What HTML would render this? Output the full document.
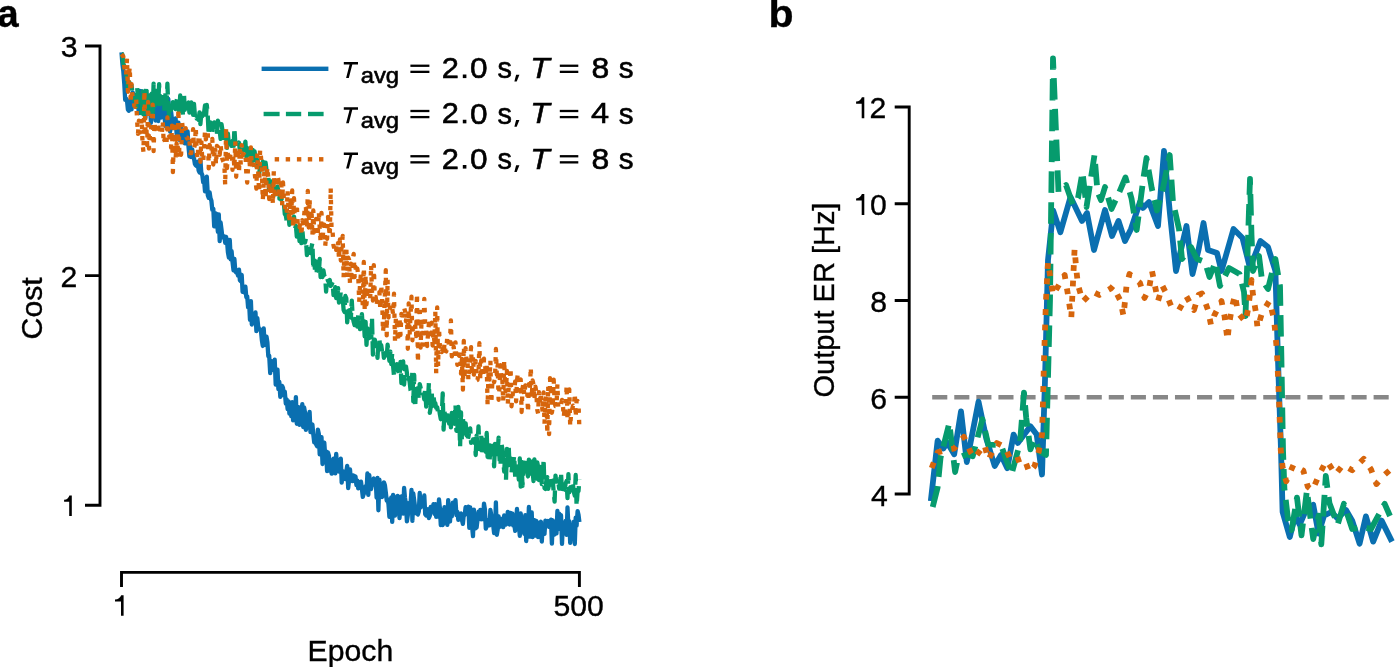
<!DOCTYPE html>
<html><head><meta charset="utf-8"><title>Figure</title>
<style>html,body{margin:0;padding:0;background:#fff;}body{width:1395px;height:667px;overflow:hidden;}svg{display:block;will-change:transform;}</style>
</head><body>
<svg width="1395" height="667" viewBox="0 0 1395 667" font-family="&quot;Liberation Sans&quot;, sans-serif">
<rect width="1395" height="667" fill="#fff"/>
<style>text{stroke:#000;stroke-width:0.35px;} .lg text{stroke-width:0.6px;}</style>
<text x="-2.51" y="26.50" font-size="38" font-weight="bold" fill="#000">a</text>
<text transform="translate(768.39,27.00) scale(1.0533,1)" font-size="39" font-weight="bold" fill="#000">b</text>
<g stroke="#000" stroke-width="2.9" fill="none">
<path d="M85,46 H100 V505.3 H85 M100,275.6 H85"/>
<path d="M121.5,587 V572.4 H579.4 V587"/>
</g>
<text x="60.85" y="56.90" font-size="30.2" fill="#000">3</text>
<text x="60.48" y="286.90" font-size="30.2" fill="#000">2</text>
<path d="M71.8,495.4 V516.1 H69.2 V501.8 H64.1 V499.7 C67.1,499.7 68.7,497.6 69.4,495.4 Z" fill="#000"/>
<path d="M123.6,595.2 V615.7 H121.0 V601.6 H115.0 V599.5 C118.0,599.5 120.5,597.4 121.2,595.2 Z" fill="#000"/>
<text x="553.39" y="615.80" font-size="30.2" fill="#000">500</text>
<text x="307.62" y="661.30" font-size="30.2" fill="#000">Epoch</text>
<g transform="translate(42.1,337.9) rotate(-90)"><text x="-1.53" y="0.00" font-size="30.2" fill="#000">Cost</text></g>
<g stroke="#000" stroke-width="2.9" fill="none">
<path d="M894.7,107 H909.2 V494 H894.7 M894.7,203.75 H909.2 M894.7,300.5 H909.2 M894.7,397.3 H909.2"/>
</g>
<path d="M864.3,97.3 V118.2 H861.7 V103.7 H856.1 V101.6 C859.1,101.6 861.2,99.5 861.9,97.3 Z" fill="#000"/>
<text x="869.38" y="118.00" font-size="30.2" fill="#000">2</text>
<path d="M864.3,194.1 V215.0 H861.7 V200.5 H856.1 V198.4 C859.1,198.4 861.2,196.3 861.9,194.1 Z" fill="#000"/>
<text x="870.02" y="214.90" font-size="30.2" fill="#000">0</text>
<text x="870.29" y="312.00" font-size="30.2" fill="#000">8</text>
<text x="870.17" y="408.70" font-size="30.2" fill="#000">6</text>
<text x="871.11" y="505.50" font-size="30.2" fill="#000">4</text>
<g transform="translate(833.8,396.1) rotate(-90)"><text transform="translate(-1.37,0.00) scale(0.9599,1)" font-size="30.2" fill="#000">Output ER [Hz]</text></g>
<line x1="932.2" y1="397.2" x2="1395" y2="397.2" stroke="#878787" stroke-width="4.5" stroke-dasharray="15.1 6.97"/>
<polyline points="121.5,52.3 122.4,63.9 123.3,71.0 124.3,84.2 125.2,99.9 126.1,98.6 127.0,100.6 127.9,109.5 128.8,110.8 129.8,100.5 130.7,99.7 131.6,109.3 132.5,92.3 133.4,93.6 134.3,101.9 135.3,103.7 136.2,99.0 137.1,99.8 138.0,104.5 138.9,113.2 139.9,91.0 140.8,106.0 141.7,91.3 142.6,98.2 143.5,108.5 144.4,95.0 145.4,117.9 146.3,103.7 147.2,109.6 148.1,99.8 149.0,103.2 149.9,95.3 150.9,122.9 151.8,109.2 152.7,106.8 153.6,115.9 154.5,90.7 155.5,120.5 156.4,103.5 157.3,103.1 158.2,121.0 159.1,107.9 160.0,108.2 161.0,117.7 161.9,102.9 162.8,103.4 163.7,103.6 164.6,117.6 165.5,125.9 166.5,111.7 167.4,124.7 168.3,98.9 169.2,115.7 170.1,131.6 171.1,111.7 172.0,119.6 172.9,128.0 173.8,119.8 174.7,124.0 175.6,118.3 176.6,133.7 177.5,130.7 178.4,122.7 179.3,139.9 180.2,133.1 181.1,125.7 182.1,135.1 183.0,141.2 183.9,129.8 184.8,143.4 185.7,132.5 186.7,140.4 187.6,131.3 188.5,146.5 189.4,156.3 190.3,146.3 191.2,157.0 192.2,149.3 193.1,156.8 194.0,158.4 194.9,163.8 195.8,165.3 196.7,166.0 197.7,161.6 198.6,170.4 199.5,172.4 200.4,159.6 201.3,172.6 202.3,175.1 203.2,182.2 204.1,180.0 205.0,191.4 205.9,182.4 206.8,176.6 207.8,195.3 208.7,197.9 209.6,192.3 210.5,198.2 211.4,200.7 212.3,209.7 213.3,208.7 214.2,226.4 215.1,214.6 216.0,213.6 216.9,221.2 217.9,231.9 218.8,214.4 219.7,241.2 220.6,222.4 221.5,229.6 222.4,237.3 223.4,237.1 224.3,236.5 225.2,242.8 226.1,236.9 227.0,240.5 227.9,252.2 228.9,257.7 229.8,240.0 230.7,259.4 231.6,251.2 232.5,261.7 233.5,270.3 234.4,258.8 235.3,271.2 236.2,272.5 237.1,270.2 238.0,275.6 239.0,269.6 239.9,280.3 240.8,281.2 241.7,274.8 242.6,291.8 243.5,287.1 244.5,292.7 245.4,286.7 246.3,297.1 247.2,296.4 248.1,307.4 249.1,303.4 250.0,319.8 250.9,301.1 251.8,324.5 252.7,316.0 253.6,322.6 254.6,320.2 255.5,312.5 256.4,331.1 257.3,318.1 258.2,326.5 259.1,328.8 260.1,329.4 261.0,331.4 261.9,340.4 262.8,346.0 263.7,328.3 264.7,344.9 265.6,344.9 266.5,336.7 267.4,342.3 268.3,356.0 269.2,355.8 270.2,373.2 271.1,361.0 272.0,369.8 272.9,361.3 273.8,368.0 274.7,359.7 275.7,384.6 276.6,377.6 277.5,369.6 278.4,389.1 279.3,381.8 280.3,396.9 281.2,390.6 282.1,385.9 283.0,387.9 283.9,395.3 284.8,391.7 285.8,403.6 286.7,399.4 287.6,409.1 288.5,401.4 289.4,413.7 290.3,406.0 291.3,416.2 292.2,402.2 293.1,420.3 294.0,410.6 294.9,418.3 295.9,397.1 296.8,423.8 297.7,408.2 298.6,407.2 299.5,424.9 300.4,418.6 301.4,417.2 302.3,404.2 303.2,427.0 304.1,407.5 305.0,412.4 305.9,429.8 306.9,414.3 307.8,416.2 308.7,427.6 309.6,411.8 310.5,432.2 311.5,425.8 312.4,424.5 313.3,434.2 314.2,442.3 315.1,437.9 316.0,444.1 317.0,446.2 317.9,429.7 318.8,433.8 319.7,454.3 320.6,447.0 321.5,437.1 322.5,464.0 323.4,446.6 324.3,442.6 325.2,456.2 326.1,451.3 327.1,471.2 328.0,452.5 328.9,455.5 329.8,470.6 330.7,461.5 331.6,473.7 332.6,461.5 333.5,458.6 334.4,460.4 335.3,473.3 336.2,453.8 337.1,466.4 338.1,463.4 339.0,471.6 339.9,464.3 340.8,458.7 341.7,482.6 342.7,471.1 343.6,478.2 344.5,477.0 345.4,479.0 346.3,471.9 347.2,465.9 348.2,488.1 349.1,480.1 350.0,469.3 350.9,480.5 351.8,475.2 352.7,481.1 353.7,475.5 354.6,477.8 355.5,476.5 356.4,485.0 357.3,480.5 358.2,488.3 359.2,482.4 360.1,486.4 361.0,481.7 361.9,488.6 362.8,496.9 363.8,493.3 364.7,490.0 365.6,486.3 366.5,492.4 367.4,473.5 368.3,494.8 369.3,475.2 370.2,488.4 371.1,488.9 372.0,483.7 372.9,479.9 373.8,478.5 374.8,484.8 375.7,480.6 376.6,497.7 377.5,478.0 378.4,510.3 379.4,479.6 380.3,491.4 381.2,495.8 382.1,496.9 383.0,493.3 383.9,482.3 384.9,485.2 385.8,492.3 386.7,500.6 387.6,499.3 388.5,504.5 389.4,516.8 390.4,503.7 391.3,497.4 392.2,521.9 393.1,494.8 394.0,496.8 395.0,515.7 395.9,500.7 396.8,504.7 397.7,496.0 398.6,500.0 399.5,518.1 400.5,505.4 401.4,496.5 402.3,501.2 403.2,513.7 404.1,488.0 405.0,498.0 406.0,504.4 406.9,521.4 407.8,515.5 408.7,503.1 409.6,511.6 410.6,503.3 411.5,490.0 412.4,520.9 413.3,493.5 414.2,500.5 415.1,507.3 416.1,513.4 417.0,513.4 417.9,514.5 418.8,511.3 419.7,493.0 420.6,507.5 421.6,505.6 422.5,504.5 423.4,503.4 424.3,495.5 425.2,514.2 426.2,515.6 427.1,510.4 428.0,509.2 428.9,518.0 429.8,515.9 430.7,507.0 431.7,510.7 432.6,509.3 433.5,504.1 434.4,513.9 435.3,504.1 436.2,516.9 437.2,514.8 438.1,516.4 439.0,499.4 439.9,508.3 440.8,525.2 441.8,509.9 442.7,525.0 443.6,522.5 444.5,507.1 445.4,516.7 446.3,507.6 447.3,524.9 448.2,500.2 449.1,516.9 450.0,521.5 450.9,506.4 451.8,516.4 452.8,502.6 453.7,510.3 454.6,508.3 455.5,500.1 456.4,515.1 457.4,511.9 458.3,519.8 459.2,515.1 460.1,514.2 461.0,513.5 461.9,520.0 462.9,523.9 463.8,514.2 464.7,514.9 465.6,507.2 466.5,513.5 467.4,513.4 468.4,506.6 469.3,527.8 470.2,507.5 471.1,520.0 472.0,525.6 473.0,536.2 473.9,509.6 474.8,526.0 475.7,528.2 476.6,527.4 477.5,520.1 478.5,511.7 479.4,518.7 480.3,510.0 481.2,519.4 482.1,510.6 483.0,519.2 484.0,503.6 484.9,509.4 485.8,528.7 486.7,526.2 487.6,520.1 488.6,524.1 489.5,525.3 490.4,510.0 491.3,515.1 492.2,522.7 493.1,524.3 494.1,533.0 495.0,530.6 495.9,502.3 496.8,534.8 497.7,529.6 498.6,516.4 499.6,526.9 500.5,525.7 501.4,518.8 502.3,519.6 503.2,527.2 504.2,515.5 505.1,517.8 506.0,524.5 506.9,522.8 507.8,511.8 508.7,520.5 509.7,524.5 510.6,513.0 511.5,516.2 512.4,513.6 513.3,525.6 514.2,523.9 515.2,530.9 516.1,522.0 517.0,509.0 517.9,525.5 518.8,524.5 519.8,535.8 520.7,513.5 521.6,522.8 522.5,529.0 523.4,528.9 524.3,533.8 525.3,515.2 526.2,541.0 527.1,526.4 528.0,531.1 528.9,507.0 529.8,536.6 530.8,521.7 531.7,512.3 532.6,537.1 533.5,524.4 534.4,520.2 535.4,535.7 536.3,520.8 537.2,523.4 538.1,537.0 539.0,525.1 539.9,524.9 540.9,521.7 541.8,541.5 542.7,526.4 543.6,532.6 544.5,533.8 545.4,520.6 546.4,523.8 547.3,523.0 548.2,521.1 549.1,526.9 550.0,524.4 551.0,519.6 551.9,543.6 552.8,520.4 553.7,525.0 554.6,534.6 555.5,527.6 556.5,533.3 557.4,510.9 558.3,529.0 559.2,513.6 560.1,520.4 561.0,515.0 562.0,543.9 562.9,522.9 563.8,533.1 564.7,530.6 565.6,520.8 566.6,534.9 567.5,507.4 568.4,526.2 569.3,521.0 570.2,542.9 571.1,528.0 572.1,525.4 573.0,530.1 573.9,521.6 574.8,544.0 575.7,517.6 576.6,525.6 577.6,511.1 578.5,514.8 579.4,521.9" fill="none" stroke="#0a6fb0" stroke-width="4.3" stroke-linejoin="round" stroke-linecap="butt"/>
<polyline points="121.5,54.1 122.4,54.4 123.3,63.5 124.3,66.5 125.2,73.6 126.1,75.7 127.0,74.0 127.9,87.5 128.8,81.0 129.8,83.4 130.7,88.6 131.6,85.4 132.5,93.7 133.4,95.5 134.3,100.0 135.3,97.8 136.2,111.7 137.1,87.3 138.0,97.0 138.9,99.9 139.9,105.4 140.8,106.5 141.7,113.1 142.6,91.4 143.5,114.3 144.4,96.5 145.4,101.5 146.3,86.2 147.2,102.2 148.1,112.6 149.0,93.8 149.9,111.4 150.9,96.0 151.8,93.6 152.7,113.8 153.6,83.6 154.5,105.8 155.5,91.6 156.4,96.8 157.3,87.2 158.2,103.9 159.1,84.2 160.0,104.2 161.0,99.3 161.9,96.5 162.8,93.7 163.7,94.8 164.6,113.3 165.5,92.3 166.5,104.5 167.4,83.7 168.3,106.7 169.2,116.5 170.1,109.6 171.1,110.0 172.0,107.6 172.9,102.2 173.8,107.1 174.7,100.8 175.6,109.0 176.6,100.8 177.5,96.1 178.4,106.9 179.3,111.5 180.2,95.5 181.1,105.6 182.1,98.9 183.0,116.6 183.9,92.7 184.8,109.8 185.7,104.4 186.7,101.4 187.6,103.8 188.5,102.6 189.4,112.5 190.3,102.8 191.2,102.4 192.2,104.7 193.1,114.9 194.0,103.8 194.9,115.2 195.8,113.1 196.7,118.7 197.7,117.4 198.6,119.9 199.5,112.4 200.4,124.0 201.3,113.9 202.3,116.2 203.2,109.5 204.1,112.6 205.0,105.5 205.9,117.9 206.8,104.9 207.8,116.7 208.7,135.0 209.6,124.1 210.5,122.4 211.4,133.2 212.3,132.8 213.3,125.8 214.2,122.4 215.1,127.5 216.0,128.6 216.9,134.3 217.9,120.7 218.8,124.1 219.7,130.7 220.6,138.9 221.5,124.2 222.4,129.8 223.4,137.9 224.3,137.3 225.2,138.6 226.1,134.6 227.0,147.9 227.9,133.7 228.9,144.1 229.8,139.8 230.7,140.1 231.6,145.9 232.5,140.8 233.5,150.8 234.4,128.0 235.3,143.3 236.2,143.0 237.1,147.4 238.0,144.8 239.0,142.6 239.9,151.1 240.8,151.9 241.7,151.9 242.6,149.7 243.5,155.0 244.5,146.9 245.4,141.6 246.3,156.7 247.2,150.4 248.1,148.4 249.1,152.9 250.0,146.7 250.9,158.7 251.8,164.9 252.7,149.8 253.6,162.2 254.6,151.5 255.5,159.7 256.4,166.5 257.3,159.8 258.2,164.3 259.1,173.3 260.1,168.0 261.0,167.3 261.9,167.6 262.8,161.6 263.7,167.9 264.7,167.9 265.6,162.7 266.5,169.9 267.4,176.5 268.3,175.6 269.2,190.1 270.2,180.3 271.1,183.8 272.0,181.5 272.9,183.3 273.8,188.4 274.7,185.1 275.7,194.3 276.6,189.3 277.5,186.6 278.4,191.5 279.3,198.5 280.3,193.0 281.2,199.7 282.1,198.2 283.0,197.9 283.9,202.7 284.8,214.0 285.8,215.4 286.7,220.8 287.6,217.7 288.5,214.5 289.4,224.8 290.3,218.6 291.3,215.7 292.2,219.6 293.1,221.8 294.0,216.5 294.9,229.0 295.9,225.8 296.8,236.6 297.7,234.8 298.6,227.9 299.5,241.0 300.4,234.2 301.4,243.2 302.3,229.4 303.2,240.1 304.1,242.4 305.0,242.5 305.9,238.7 306.9,255.2 307.8,247.3 308.7,244.9 309.6,251.3 310.5,252.9 311.5,247.0 312.4,242.9 313.3,269.1 314.2,260.3 315.1,271.5 316.0,261.5 317.0,274.7 317.9,273.1 318.8,273.9 319.7,258.8 320.6,277.1 321.5,269.6 322.5,277.0 323.4,270.4 324.3,275.7 325.2,276.9 326.1,291.6 327.1,278.2 328.0,280.9 328.9,282.2 329.8,280.1 330.7,285.8 331.6,284.7 332.6,282.1 333.5,295.0 334.4,291.2 335.3,287.1 336.2,298.1 337.1,298.0 338.1,288.2 339.0,302.5 339.9,299.6 340.8,291.5 341.7,295.9 342.7,297.6 343.6,309.9 344.5,312.0 345.4,296.0 346.3,298.2 347.2,322.4 348.2,311.2 349.1,310.3 350.0,310.1 350.9,317.5 351.8,300.7 352.7,317.1 353.7,322.0 354.6,325.1 355.5,316.3 356.4,321.3 357.3,326.6 358.2,314.8 359.2,318.7 360.1,329.2 361.0,327.0 361.9,314.1 362.8,328.4 363.8,321.2 364.7,336.4 365.6,321.8 366.5,344.9 367.4,328.3 368.3,329.9 369.3,338.0 370.2,336.2 371.1,341.6 372.0,317.7 372.9,354.7 373.8,339.7 374.8,339.6 375.7,344.3 376.6,345.9 377.5,357.9 378.4,341.8 379.4,339.7 380.3,347.6 381.2,345.1 382.1,351.5 383.0,348.3 383.9,357.9 384.9,353.1 385.8,360.6 386.7,357.2 387.6,344.7 388.5,352.4 389.4,360.8 390.4,351.6 391.3,364.1 392.2,353.1 393.1,365.9 394.0,375.8 395.0,370.3 395.9,369.7 396.8,364.1 397.7,366.7 398.6,372.8 399.5,376.1 400.5,361.8 401.4,383.1 402.3,376.9 403.2,361.5 404.1,384.5 405.0,371.6 406.0,366.6 406.9,372.9 407.8,382.3 408.7,377.8 409.6,381.6 410.6,390.5 411.5,392.9 412.4,369.9 413.3,401.4 414.2,375.0 415.1,407.3 416.1,388.9 417.0,395.3 417.9,388.2 418.8,399.8 419.7,384.1 420.6,387.6 421.6,389.9 422.5,388.6 423.4,394.3 424.3,399.5 425.2,388.2 426.2,406.7 427.1,401.4 428.0,399.6 428.9,383.0 429.8,412.9 430.7,407.2 431.7,392.6 432.6,405.8 433.5,396.5 434.4,402.7 435.3,403.1 436.2,407.8 437.2,407.4 438.1,412.2 439.0,408.5 439.9,414.4 440.8,419.2 441.8,414.9 442.7,393.3 443.6,429.7 444.5,411.6 445.4,418.4 446.3,420.3 447.3,413.0 448.2,411.8 449.1,423.7 450.0,411.2 450.9,427.3 451.8,412.8 452.8,424.7 453.7,420.5 454.6,423.7 455.5,404.4 456.4,430.8 457.4,428.7 458.3,406.8 459.2,416.6 460.1,446.6 461.0,412.3 461.9,441.0 462.9,416.4 463.8,433.4 464.7,431.4 465.6,423.3 466.5,430.9 467.4,441.2 468.4,436.9 469.3,431.7 470.2,428.4 471.1,442.9 472.0,441.8 473.0,439.5 473.9,440.7 474.8,438.9 475.7,455.0 476.6,435.6 477.5,445.6 478.5,426.3 479.4,449.2 480.3,448.1 481.2,435.4 482.1,455.3 483.0,439.5 484.0,448.9 484.9,447.2 485.8,451.9 486.7,433.0 487.6,456.9 488.6,441.1 489.5,462.6 490.4,445.6 491.3,440.3 492.2,450.3 493.1,448.9 494.1,466.4 495.0,443.8 495.9,457.1 496.8,457.3 497.7,451.3 498.6,437.6 499.6,459.5 500.5,465.6 501.4,443.1 502.3,448.5 503.2,460.3 504.2,471.5 505.1,455.3 506.0,479.8 506.9,448.9 507.8,465.6 508.7,446.8 509.7,468.0 510.6,458.3 511.5,472.9 512.4,463.4 513.3,462.7 514.2,455.6 515.2,477.1 516.1,469.5 517.0,473.9 517.9,466.5 518.8,479.6 519.8,458.5 520.7,486.6 521.6,461.8 522.5,485.9 523.4,465.6 524.3,465.5 525.3,457.9 526.2,469.0 527.1,471.4 528.0,476.5 528.9,459.6 529.8,473.9 530.8,469.0 531.7,459.1 532.6,471.1 533.5,481.0 534.4,459.5 535.4,473.5 536.3,478.6 537.2,462.3 538.1,466.7 539.0,480.0 539.9,468.8 540.9,463.3 541.8,484.1 542.7,483.2 543.6,459.4 544.5,488.1 545.4,488.9 546.4,480.2 547.3,477.1 548.2,488.8 549.1,484.6 550.0,481.1 551.0,486.5 551.9,488.9 552.8,480.7 553.7,492.1 554.6,501.6 555.5,475.6 556.5,484.6 557.4,482.9 558.3,482.2 559.2,488.6 560.1,481.5 561.0,472.6 562.0,492.0 562.9,494.1 563.8,488.2 564.7,489.7 565.6,483.5 566.6,481.1 567.5,498.1 568.4,474.1 569.3,492.3 570.2,487.4 571.1,488.9 572.1,481.5 573.0,484.9 573.9,492.2 574.8,495.6 575.7,475.0 576.6,505.9 577.6,491.6 578.5,491.2 579.4,479.3" fill="none" stroke="#069b6d" stroke-width="4.3" stroke-linejoin="round" stroke-linecap="butt" stroke-dasharray="15.9 6.6"/>
<polyline points="121.5,54.2 122.4,55.3 123.3,56.4 124.3,66.9 125.2,72.4 126.1,75.3 127.0,58.4 127.9,91.8 128.8,75.7 129.8,67.1 130.7,102.9 131.6,84.2 132.5,96.2 133.4,97.7 134.3,106.1 135.3,106.8 136.2,99.6 137.1,120.9 138.0,133.8 138.9,120.7 139.9,132.4 140.8,128.7 141.7,118.2 142.6,144.9 143.5,152.0 144.4,90.7 145.4,130.5 146.3,126.1 147.2,145.1 148.1,101.8 149.0,148.7 149.9,135.5 150.9,134.8 151.8,116.5 152.7,104.7 153.6,151.1 154.5,122.3 155.5,133.2 156.4,128.2 157.3,132.8 158.2,127.7 159.1,129.3 160.0,127.6 161.0,128.0 161.9,132.9 162.8,121.4 163.7,143.3 164.6,139.5 165.5,145.0 166.5,144.6 167.4,117.4 168.3,138.0 169.2,136.4 170.1,138.8 171.1,147.5 172.0,125.7 172.9,172.1 173.8,138.0 174.7,126.7 175.6,158.6 176.6,143.5 177.5,157.0 178.4,109.1 179.3,152.7 180.2,150.1 181.1,154.8 182.1,122.3 183.0,130.4 183.9,127.1 184.8,128.8 185.7,128.2 186.7,137.8 187.6,137.7 188.5,142.6 189.4,139.6 190.3,153.1 191.2,153.2 192.2,140.9 193.1,129.1 194.0,148.2 194.9,144.9 195.8,127.3 196.7,152.6 197.7,159.1 198.6,135.1 199.5,139.2 200.4,161.9 201.3,140.0 202.3,160.0 203.2,161.4 204.1,147.4 205.0,131.1 205.9,139.4 206.8,133.0 207.8,132.4 208.7,168.4 209.6,144.8 210.5,149.0 211.4,152.5 212.3,138.9 213.3,164.5 214.2,156.1 215.1,146.3 216.0,164.7 216.9,145.8 217.9,147.0 218.8,152.3 219.7,154.7 220.6,144.8 221.5,154.1 222.4,159.1 223.4,161.7 224.3,163.5 225.2,185.2 226.1,127.8 227.0,168.1 227.9,151.9 228.9,150.6 229.8,156.9 230.7,153.8 231.6,152.0 232.5,169.9 233.5,155.1 234.4,168.2 235.3,141.4 236.2,176.8 237.1,147.2 238.0,153.7 239.0,171.7 239.9,148.1 240.8,165.1 241.7,145.2 242.6,155.3 243.5,153.9 244.5,151.6 245.4,152.1 246.3,173.2 247.2,182.6 248.1,167.1 249.1,156.2 250.0,167.3 250.9,147.4 251.8,167.0 252.7,159.0 253.6,162.6 254.6,172.0 255.5,180.8 256.4,188.7 257.3,153.3 258.2,171.9 259.1,191.7 260.1,149.7 261.0,157.1 261.9,172.6 262.8,200.2 263.7,183.9 264.7,165.5 265.6,198.2 266.5,179.8 267.4,167.2 268.3,178.1 269.2,199.2 270.2,184.6 271.1,193.1 272.0,186.7 272.9,204.2 273.8,171.2 274.7,194.9 275.7,198.3 276.6,188.0 277.5,175.6 278.4,179.4 279.3,191.7 280.3,198.8 281.2,178.6 282.1,205.6 283.0,182.3 283.9,200.6 284.8,204.3 285.8,214.4 286.7,212.7 287.6,190.7 288.5,210.0 289.4,222.8 290.3,197.9 291.3,213.3 292.2,190.5 293.1,227.0 294.0,198.1 294.9,221.6 295.9,208.7 296.8,204.0 297.7,224.0 298.6,222.3 299.5,227.1 300.4,222.2 301.4,235.7 302.3,220.2 303.2,223.3 304.1,216.1 305.0,205.4 305.9,207.5 306.9,228.0 307.8,190.9 308.7,227.5 309.6,198.7 310.5,230.9 311.5,209.2 312.4,235.6 313.3,210.3 314.2,231.9 315.1,224.8 316.0,219.0 317.0,236.1 317.9,231.9 318.8,211.4 319.7,227.5 320.6,242.2 321.5,212.8 322.5,241.2 323.4,228.2 324.3,224.7 325.2,246.1 326.1,236.2 327.1,238.8 328.0,216.9 328.9,227.0 329.8,236.3 330.7,188.0 331.6,232.3 332.6,231.9 333.5,245.2 334.4,249.1 335.3,246.2 336.2,249.9 337.1,240.2 338.1,242.0 339.0,259.2 339.9,239.5 340.8,260.5 341.7,245.9 342.7,235.9 343.6,277.4 344.5,249.5 345.4,266.5 346.3,246.3 347.2,277.4 348.2,257.7 349.1,259.8 350.0,283.5 350.9,263.7 351.8,281.8 352.7,259.7 353.7,253.9 354.6,277.1 355.5,266.9 356.4,272.8 357.3,268.5 358.2,274.6 359.2,301.8 360.1,282.7 361.0,272.8 361.9,292.5 362.8,305.6 363.8,262.0 364.7,310.0 365.6,275.0 366.5,304.3 367.4,292.4 368.3,289.5 369.3,285.8 370.2,299.1 371.1,265.0 372.0,291.8 372.9,300.5 373.8,265.1 374.8,297.3 375.7,297.0 376.6,305.8 377.5,298.3 378.4,297.7 379.4,292.1 380.3,309.2 381.2,284.7 382.1,297.2 383.0,332.0 383.9,322.7 384.9,294.5 385.8,270.1 386.7,335.4 387.6,279.5 388.5,317.5 389.4,314.6 390.4,304.4 391.3,308.7 392.2,308.4 393.1,314.3 394.0,293.7 395.0,341.1 395.9,317.4 396.8,321.3 397.7,335.9 398.6,341.3 399.5,317.3 400.5,335.0 401.4,313.9 402.3,320.7 403.2,310.1 404.1,307.5 405.0,311.0 406.0,321.3 406.9,312.4 407.8,348.8 408.7,303.3 409.6,335.4 410.6,314.1 411.5,296.7 412.4,340.3 413.3,323.0 414.2,322.2 415.1,324.5 416.1,336.1 417.0,293.6 417.9,362.3 418.8,329.2 419.7,306.2 420.6,347.7 421.6,318.5 422.5,350.3 423.4,335.2 424.3,298.8 425.2,323.6 426.2,330.1 427.1,346.0 428.0,334.3 428.9,323.6 429.8,334.4 430.7,324.2 431.7,322.8 432.6,345.5 433.5,332.1 434.4,341.5 435.3,311.4 436.2,373.6 437.2,307.3 438.1,366.2 439.0,328.5 439.9,346.6 440.8,345.5 441.8,352.1 442.7,349.6 443.6,353.6 444.5,343.3 445.4,351.0 446.3,351.4 447.3,336.0 448.2,339.3 449.1,348.0 450.0,340.4 450.9,320.3 451.8,356.4 452.8,352.2 453.7,346.8 454.6,356.1 455.5,342.3 456.4,358.6 457.4,364.9 458.3,354.5 459.2,355.8 460.1,354.5 461.0,373.6 461.9,359.0 462.9,389.7 463.8,340.9 464.7,378.3 465.6,348.1 466.5,360.2 467.4,358.0 468.4,380.1 469.3,371.5 470.2,355.8 471.1,347.2 472.0,375.1 473.0,356.3 473.9,374.7 474.8,366.0 475.7,360.9 476.6,380.3 477.5,379.8 478.5,373.8 479.4,343.2 480.3,380.0 481.2,360.5 482.1,367.4 483.0,377.1 484.0,358.7 484.9,360.9 485.8,375.5 486.7,363.9 487.6,405.5 488.6,370.9 489.5,379.6 490.4,360.5 491.3,403.1 492.2,384.7 493.1,378.7 494.1,382.2 495.0,378.9 495.9,349.0 496.8,374.8 497.7,365.1 498.6,399.8 499.6,386.1 500.5,365.2 501.4,381.0 502.3,378.7 503.2,401.5 504.2,360.3 505.1,389.1 506.0,391.0 506.9,370.8 507.8,404.2 508.7,386.9 509.7,390.1 510.6,367.9 511.5,406.3 512.4,396.6 513.3,390.3 514.2,390.1 515.2,381.3 516.1,401.4 517.0,380.4 517.9,373.1 518.8,390.7 519.8,381.3 520.7,379.4 521.6,412.0 522.5,388.2 523.4,383.9 524.3,395.2 525.3,385.5 526.2,387.3 527.1,388.3 528.0,412.3 528.9,384.1 529.8,390.4 530.8,367.3 531.7,398.0 532.6,380.5 533.5,384.5 534.4,400.4 535.4,386.6 536.3,392.0 537.2,409.5 538.1,413.5 539.0,392.2 539.9,400.9 540.9,392.8 541.8,404.1 542.7,412.5 543.6,392.5 544.5,423.9 545.4,400.2 546.4,396.0 547.3,433.6 548.2,385.9 549.1,434.1 550.0,378.2 551.0,393.4 551.9,412.8 552.8,405.9 553.7,379.6 554.6,402.6 555.5,406.2 556.5,406.3 557.4,384.1 558.3,407.6 559.2,407.7 560.1,404.3 561.0,404.7 562.0,399.9 562.9,405.4 563.8,417.1 564.7,407.1 565.6,412.2 566.6,385.3 567.5,419.9 568.4,417.1 569.3,389.4 570.2,426.3 571.1,413.9 572.1,409.6 573.0,405.7 573.9,407.1 574.8,393.5 575.7,417.1 576.6,400.7 577.6,401.1 578.5,402.6 579.4,429.4" fill="none" stroke="#d6650c" stroke-width="4.3" stroke-linejoin="round" stroke-linecap="butt" stroke-dasharray="4.4 7.0"/>
<polyline points="930.8,501.0 937.6,440.7 943.4,448.5 947.3,442.6 954.2,454.3 961.0,411.4 966.8,462.0 978.5,401.7 986.3,438.7 994.7,466.0 1001.0,455.0 1007.3,468.2 1013.6,434.6 1017.8,443.0 1030.4,426.2 1036.7,434.6 1042.0,474.5 1045.0,380.0 1048.0,260.0 1053.2,210.7 1060.4,232.3 1070.5,197.0 1082.0,221.0 1087.0,213.0 1094.0,250.0 1105.0,210.0 1112.0,236.0 1118.5,221.0 1125.0,241.0 1131.0,229.0 1140.0,202.0 1143.0,208.0 1149.0,202.0 1158.0,226.0 1164.0,151.0 1170.0,214.0 1176.0,271.0 1186.5,226.0 1192.5,274.0 1198.5,250.0 1203.5,223.0 1208.0,250.0 1217.0,253.0 1221.5,271.0 1233.5,229.0 1242.5,238.0 1250.0,268.0 1260.4,241.0 1268.0,247.0 1275.4,271.0 1278.0,360.0 1281.0,450.0 1282.6,512.0 1289.8,537.0 1295.2,515.6 1299.7,524.6 1306.0,510.0 1313.2,504.8 1318.6,533.6 1324.0,515.6 1331.3,512.0 1337.6,518.5 1346.0,510.0 1352.2,520.6 1359.6,543.7 1365.9,516.4 1373.2,541.6 1381.6,520.6 1392.0,541.6" fill="none" stroke="#0a6fb0" stroke-width="5.8" stroke-linejoin="round" stroke-linecap="butt"/>
<polyline points="932.7,507.0 937.6,487.5 940.5,458.0 949.3,423.0 955.1,472.0 958.0,458.0 966.8,454.3 972.7,456.3 982.4,419.2 988.3,444.6 1001.0,445.0 1011.5,474.5 1020.0,443.0 1024.0,392.6 1026.2,417.8 1030.4,449.3 1034.6,438.8 1040.0,452.0 1046.0,455.0 1050.0,300.0 1053.0,58.5 1058.5,192.0 1066.0,185.0 1073.0,205.0 1078.0,198.0 1082.5,172.0 1086.5,207.0 1094.5,155.0 1097.5,192.0 1101.0,200.0 1105.0,187.0 1111.5,209.0 1118.5,194.0 1125.5,177.5 1131.5,198.5 1136.7,230.0 1143.5,177.5 1146.5,158.0 1151.7,188.0 1157.0,210.5 1163.0,188.0 1169.7,155.0 1173.0,202.0 1179.0,229.0 1182.0,259.0 1191.0,247.0 1197.0,259.0 1205.0,262.0 1209.5,277.0 1215.5,262.0 1220.0,286.0 1229.0,268.0 1239.5,274.0 1244.0,292.0 1245.5,316.0 1250.0,179.0 1251.5,235.0 1253.0,271.0 1259.0,256.0 1262.0,280.0 1268.0,289.0 1275.4,259.0 1280.0,286.0 1281.4,358.0 1283.0,450.0 1284.4,488.6 1288.0,519.0 1291.6,530.0 1297.0,497.6 1301.5,535.4 1306.9,490.4 1313.2,539.0 1318.6,515.6 1321.3,544.4 1325.8,476.0 1329.4,503.0 1337.6,524.8 1343.9,503.8 1348.0,516.4 1352.2,529.0 1362.7,527.0 1371.0,529.0 1384.7,503.8 1390.0,516.0" fill="none" stroke="#069b6d" stroke-width="5.8" stroke-linejoin="round" stroke-linecap="butt" stroke-dasharray="21.5 9.3"/>
<polyline points="931.7,468.0 937.6,452.4 946.0,450.0 954.2,448.5 963.9,436.8 970.7,452.4 974.6,458.2 984.4,444.6 988.4,459.8 996.8,443.0 1005.2,447.2 1011.5,462.0 1024.0,457.7 1029.3,472.4 1034.6,466.0 1038.8,451.4 1042.0,434.6 1043.0,401.0 1044.0,360.0 1046.0,300.0 1048.0,262.0 1053.0,295.0 1064.7,275.0 1068.0,295.0 1071.3,318.0 1074.6,248.8 1076.2,268.6 1078.0,285.0 1082.8,301.6 1092.7,291.7 1099.3,295.0 1111.0,288.4 1113.0,286.0 1120.5,301.0 1123.5,316.0 1126.5,286.0 1129.5,274.0 1140.0,283.0 1144.5,298.0 1149.0,289.0 1152.0,271.0 1155.0,286.0 1158.0,301.0 1162.5,286.0 1165.5,292.0 1171.5,307.0 1179.0,310.0 1186.5,296.5 1194.0,310.0 1198.5,295.0 1202.0,293.4 1208.0,310.0 1211.0,325.0 1214.0,316.0 1221.5,301.0 1224.5,316.0 1227.5,340.0 1229.0,325.0 1232.0,307.0 1235.0,295.0 1238.0,313.0 1245.5,322.0 1248.5,307.0 1251.5,280.0 1253.0,295.0 1256.0,313.0 1257.5,328.0 1262.0,313.0 1269.4,301.0 1274.0,319.0 1275.4,334.0 1277.0,352.0 1279.0,400.0 1280.8,450.8 1282.6,467.0 1286.2,481.4 1293.4,465.0 1303.3,470.6 1307.8,486.8 1312.3,490.4 1318.6,476.0 1325.8,461.6 1327.0,461.0 1335.5,474.5 1342.8,465.0 1352.2,470.3 1363.8,458.8 1371.0,469.3 1376.4,484.0 1383.7,475.5 1390.0,470.0" fill="none" stroke="#d6650c" stroke-width="5.8" stroke-linejoin="round" stroke-linecap="butt" stroke-dasharray="5.8 9.6"/>
<rect x="261.6" y="66.6" width="66.8" height="4.4" fill="#0a6fb0"/>
<rect x="263.6" y="111.8" width="16.0" height="4.4" fill="#069b6d"/>
<rect x="285.9" y="111.8" width="15.3" height="4.4" fill="#069b6d"/>
<rect x="308" y="111.8" width="15.6" height="4.4" fill="#069b6d"/>
<rect x="274.7" y="157.1" width="4.4" height="4.4" fill="#d6650c"/>
<rect x="285.7" y="157.1" width="4.4" height="4.4" fill="#d6650c"/>
<rect x="296.9" y="157.1" width="4.4" height="4.4" fill="#d6650c"/>
<rect x="307.8" y="157.1" width="4.4" height="4.4" fill="#d6650c"/>
<rect x="319.0" y="157.1" width="4.4" height="4.4" fill="#d6650c"/>
<g class="lg">
<path d="M343.8,62.0 H358 V64.4 H352.3 L348.8,77.9 H346.1 L349.6,64.4 H343.8 Z" fill="#000"/>
<text transform="translate(360.69,83.20) scale(1.1113,1)" font-size="21.4" fill="#000">avg</text>
<rect x="410.4" y="64.60" width="19.0" height="2.3" fill="#000"/><rect x="410.4" y="70.70" width="19.0" height="2.3" fill="#000"/>
<text transform="translate(441.65,78.00) scale(1.0109,1)" font-size="30.4" fill="#000">2</text>
<rect x="462.8" y="74.50" width="3.6" height="3.6" fill="#000"/>
<text transform="translate(469.97,78.30) scale(1.0391,1)" font-size="30.4" fill="#000">0</text>
<text transform="translate(497.60,78.30) scale(0.9506,1)" font-size="30.4" fill="#000">s</text>
<path d="M516.1,74.70 L519.4,74.70 L516.7,81.50 L514.4,81.50 Z" fill="#000"/>
<text transform="translate(530.33,78.00) scale(1.0491,1)" font-size="30.4" font-style="italic" fill="#000">T</text>
<rect x="559.8" y="64.60" width="18.5" height="2.3" fill="#000"/><rect x="559.8" y="70.70" width="18.5" height="2.3" fill="#000"/>
<text transform="translate(591.61,78.30) scale(1.0515,1)" font-size="30.4" fill="#000">8</text>
<text transform="translate(618.78,78.30) scale(0.9732,1)" font-size="30.4" fill="#000">s</text>
<path d="M343.8,107.2 H358 V109.7 H352.3 L348.8,123.2 H346.1 L349.6,109.7 H343.8 Z" fill="#000"/>
<text transform="translate(360.69,128.45) scale(1.1113,1)" font-size="21.4" fill="#000">avg</text>
<rect x="410.4" y="109.85" width="19.0" height="2.3" fill="#000"/><rect x="410.4" y="115.95" width="19.0" height="2.3" fill="#000"/>
<text transform="translate(441.65,123.25) scale(1.0109,1)" font-size="30.4" fill="#000">2</text>
<rect x="462.8" y="119.75" width="3.6" height="3.6" fill="#000"/>
<text transform="translate(469.97,123.55) scale(1.0391,1)" font-size="30.4" fill="#000">0</text>
<text transform="translate(497.60,123.55) scale(0.9506,1)" font-size="30.4" fill="#000">s</text>
<path d="M516.1,119.95 L519.4,119.95 L516.7,126.75 L514.4,126.75 Z" fill="#000"/>
<text transform="translate(530.33,123.25) scale(1.0491,1)" font-size="30.4" font-style="italic" fill="#000">T</text>
<rect x="559.8" y="109.85" width="18.5" height="2.3" fill="#000"/><rect x="559.8" y="115.95" width="18.5" height="2.3" fill="#000"/>
<text transform="translate(591.05,123.25) scale(1.0706,1)" font-size="30.4" fill="#000">4</text>
<text transform="translate(618.78,123.55) scale(0.9732,1)" font-size="30.4" fill="#000">s</text>
<path d="M343.8,152.5 H358 V154.9 H352.3 L348.8,168.4 H346.1 L349.6,154.9 H343.8 Z" fill="#000"/>
<text transform="translate(360.69,173.70) scale(1.1113,1)" font-size="21.4" fill="#000">avg</text>
<rect x="410.4" y="155.10" width="19.0" height="2.3" fill="#000"/><rect x="410.4" y="161.20" width="19.0" height="2.3" fill="#000"/>
<text transform="translate(441.65,168.50) scale(1.0109,1)" font-size="30.4" fill="#000">2</text>
<rect x="462.8" y="165.00" width="3.6" height="3.6" fill="#000"/>
<text transform="translate(469.97,168.80) scale(1.0391,1)" font-size="30.4" fill="#000">0</text>
<text transform="translate(497.60,168.80) scale(0.9506,1)" font-size="30.4" fill="#000">s</text>
<path d="M516.1,165.20 L519.4,165.20 L516.7,172.00 L514.4,172.00 Z" fill="#000"/>
<text transform="translate(530.33,168.50) scale(1.0491,1)" font-size="30.4" font-style="italic" fill="#000">T</text>
<rect x="559.8" y="155.10" width="18.5" height="2.3" fill="#000"/><rect x="559.8" y="161.20" width="18.5" height="2.3" fill="#000"/>
<text transform="translate(591.61,168.80) scale(1.0515,1)" font-size="30.4" fill="#000">8</text>
<text transform="translate(618.78,168.80) scale(0.9732,1)" font-size="30.4" fill="#000">s</text>
</g>
</svg>
</body></html>
